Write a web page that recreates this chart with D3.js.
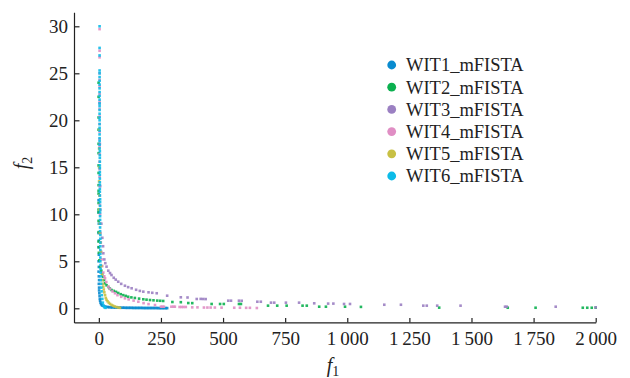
<!DOCTYPE html>
<html><head><meta charset="utf-8">
<script src="https://cdn.jsdelivr.net/npm/d3@7"></script>
<style>body{margin:0;background:#fff}svg{display:block}</style>
</head><body><svg id="c" width="630" height="378"></svg>
<script>
const seriesNames = ["WIT1_mFISTA","WIT2_mFISTA","WIT3_mFISTA","WIT4_mFISTA","WIT5_mFISTA","WIT6_mFISTA"];
const seriesColors = ["#0a8bcf","#0bb04f","#9b80c2","#e08ec4","#c8c044","#0cbbe8"];
const xTicks = [0,250,500,750,1000,1250,1500,1750,2000];
const xTickLabels = ["0","250","500","750","1\u2009000","1\u2009250","1\u2009500","1\u2009750","2\u2009000"];
const yTicks = [0,5,10,15,20,25,30];
const yTickLabels = ["0","5","10","15","20","25","30"];

// [f1, f2] pairs
const wit1 = [[-1,11.5],[-1,10.2],[0,9.0],[-1,8.0],[0,7.2],[-1,6.5],[0,5.7],[-1,5.0],[0,4.4],[-1,3.9],[0,3.4],[1,3.0],[0,2.6],[1,2.2],[1,1.9],[2,1.6],
[3,1.3],[4,1.0],[5,0.8],[7,0.6],[9,0.45],[12,0.35],[15,0.28],[20,0.22],[25,0.18],[30,0.15],[36,0.13],[42,0.12],[48,0.1],[54,0.1],[60,0.09],[66,0.08],[72,0.08],[78,0.07],[84,0.07],[90,0.06],[96,0.06],[102,0.06],[108,0.05],[114,0.05],[120,0.05],[126,0.05],[132,0.05],[138,0.04],[144,0.04],[150,0.04],[156,0.04],[162,0.04],[168,0.04],[174,0.04],[180,0.03],[186,0.03],[192,0.03],[198,0.03],[204,0.03],[210,0.03],[216,0.03],[222,0.03],[228,0.03],[234,0.03],[240,0.02],[246,0.02],[252,0.02],[258,0.02],[264,0.02],[270,0.02],[275,0.02]];
const wit2 = [[-1,24.0],[-1,22.5],[-1,20.3],[-1,19.0],[-1,17.5],[-1,16.5],[-1,15.2],[-1,14.4],[-1,13.1],[-1,12.5],[-1,12.2],[-1,11.2],[-1,10.5],[-1,10.2],[-1,9.3],[-1,8.1],[-1,7.1],[0,6.5],[0,5.9],[2,5.1],[5,4.4],[10,4.0],[14,3.7],
[18,3.36],[21,3.0],[25,2.66],[31,2.45],[38,2.27],[44,2.1],[51,1.95],[60,1.85],[69,1.75],[78,1.63],[88,1.5],[98,1.4],[108,1.32],[118,1.23],[131,1.16],[145,1.1],[162,1.03],[179,0.96],[192,0.92],[206,0.88],[220,0.85],[235,0.82],[247,0.8],[259,0.78],
[296,0.67],[330,0.65],[360,0.56],[376,0.55],[454,0.46],[488,0.46],[503,0.46],[564,0.46],[572,0.46],[681,0.28],[718,0.28],[756,0.28],[820,0.28],[837,0.28],[887,0.17],[914,0.17],[991,0.17],[1055,0.15],[1370,0.07],[1646,0.06],[1758,0.06],[1948,0.06],[1966,0.06],[1984,0.06],[2000,0.07]];
const wit3 = [[3,21.8],[4,17.5],[5,13.0],[6,10.5],[10,9.0],[14,7.5],[17,6.6],[18,5.85],[22,5.2],[26,4.8],[31,4.43],[38,4.0],[45,3.75],[51,3.54],[60,3.25],[68,3.05],[78,2.83],[90,2.6],[105,2.4],[118,2.25],[132,2.13],[150,1.97],[165,1.85],[179,1.77],[200,1.7],[215,1.65],[233,1.6],
[275,1.34],[330,1.17],[357,1.15],[394,0.99],[410,1.0],[420,0.99],[430,0.98],[521,0.81],[532,0.81],[564,0.81],[575,0.8],[638,0.7],[652,0.7],[693,0.6],[706,0.6],[753,0.6],[806,0.6],[867,0.53],[923,0.5],[944,0.5],[987,0.46],[1011,0.46],[1149,0.38],[1216,0.38],[1306,0.28],[1320,0.28],[1362,0.28],[1456,0.28],[1635,0.17],[1642,0.17],[1839,0.17],[2000,0.1]];
const wit4 = [[3,29.7],[3,27.4],[3,26.7],[3,25.0],[3,24.3],[3,23.6],[3,22.8],[3,22.0],[3,21.2],[3,20.4],[3,19.6],[3,18.8],[3,18.0],[3,17.2],[3,16.4],[3,15.6],[3,14.8],[3,14.0],[4,13.0],[4,12.0],[4,11.0],[5,10.0],[6,9.0],[7,8.0],[8,7.0],[10,6.0],[12,5.2],[14,4.5],[18,3.8],[22,3.4],[25,3.19],[30,2.8],[38,2.3],[45,2.05],[55,1.8],[65,1.6],[75,1.4],[90,1.22],[105,1.06],[120,0.95],[140,0.82],[159,0.7],[180,0.55],[200,0.45],[226,0.35],
[250,0.17],[256,0.17],[262,0.17],[292,0.17],[300,0.17],[306,0.17],[325,0.14],[333,0.14],[341,0.14],[350,0.14],[376,0.1],[397,0.1],[423,0.08],[437,0.08],[450,0.08],[467,0.08],[494,0.07],[545,0.06],[568,0.06],[593,0.05],[608,0.05],[636,0.03]];
const wit5 = [[1,19.0],[1,17.0],[1,15.0],[1,13.5],[2,12.0],[2,10.5],[3,9.0],[4,8.0],[6,7.0],[8,6.0],[10,4.5],[12,3.6],[14,3.0],[16,2.6],[18,2.3],[20,2.0],[22,1.7],[25,1.4],[28,1.1],[31,0.9],[35,0.75],[40,0.6],[45,0.47],[51,0.36],[57,0.28],[63,0.2],[70,0.14],[78,0.08],[85,0.05]];
const wit6 = [[3,30.0],[3,27.7],[3,26.9],[3,25.3],[3,25.0],[3,24.6],[3,24.2],[3,23.8],[3,23.4],[3,23.0],[3,22.6],[3,22.2],[3,21.8],[3,21.5],[3,21.1],[3,20.7],[3,20.3],[3,20.0],[3,19.6],[3,19.2],[3,18.9],[3,18.5],[3,18.1],[3,17.8],[3,17.4],[3,17.0],[4,16.7],[4,16.3],[4,16.0],[4,15.6],[4,15.2],[4,14.9],[4,14.5],[4,14.2],[4,13.8],[4,13.4],[4,13.1],[4,12.7],[4,12.4],[4,12.0],[5,11.6],[5,11.3],[5,10.9],[5,10.5],[5,10.2],[5,9.8],[5,9.4],[5,9.0],[5,8.6],[5,8.2],[6,7.8],[6,7.4],[6,7.0],[6,6.6],[6,6.2],[6,5.8],[6,5.4],[6,5.0],[7,4.6],[7,4.2],[7,3.8],[8,3.4],[8,3.0],[9,2.6],[10,2.2],[11,1.8],[12,1.4],[14,1.0],[16,0.6],[19,0.3],[23,0.1],[27,0.05]];
const seriesData = [wit1, wit2, wit3, wit4, wit5, wit6];

const svg = d3.select("#c");
const font = "'Liberation Serif','Times New Roman',serif";
const x = d3.scaleLinear().domain([-100, 2000]).range([74, 595.7]);
const y = d3.scaleLinear().domain([-1.5, 31.5]).range([322.4, 12.2]);

// points
seriesData.forEach((pts, i) => {
  svg.append("g").selectAll("rect").data(pts).join("rect")
    .attr("x", d => x(d[0]) - 1.3).attr("y", d => y(d[1]) - 1.3)
    .attr("width", 2.6).attr("height", 2.6)
    .attr("fill", seriesColors[i]).attr("opacity", 0.9);
});

// axes
const xAxis = d3.axisBottom(x).tickValues(xTicks).tickFormat((d, i) => xTickLabels[i])
  .tickSizeInner(-4.5).tickSizeOuter(0).tickPadding(9);
const yAxis = d3.axisLeft(y).tickValues(yTicks).tickFormat((d, i) => yTickLabels[i])
  .tickSizeInner(-5.5).tickSizeOuter(0).tickPadding(6);
const gx = svg.append("g").attr("transform", "translate(0,322.4)").call(xAxis);
const gy = svg.append("g").attr("transform", "translate(74,0)").call(yAxis);
[gx, gy].forEach(g => {
  g.selectAll("path").attr("stroke", "#222").attr("stroke-width", 1.2);
  g.selectAll("line").attr("stroke", "#222").attr("stroke-width", 1.2);
  g.selectAll("text").attr("font-family", font).attr("font-size", 19).attr("fill", "#222");
});

// axis titles
const fx = svg.append("text").attr("x", 333).attr("y", 372).attr("text-anchor", "middle")
  .attr("font-family", font).attr("font-size", 20).attr("fill", "#222");
fx.append("tspan").attr("font-style", "italic").text("f");
fx.append("tspan").attr("font-size", 14).attr("dy", 4).text("1");
const fy = svg.append("text").attr("transform", "translate(28,163) rotate(-90)").attr("text-anchor", "middle")
  .attr("font-family", font).attr("font-size", 20).attr("fill", "#222");
fy.append("tspan").attr("font-style", "italic").text("f");
fy.append("tspan").attr("font-size", 14).attr("dy", 4).text("2");

// legend
const lg = svg.append("g");
seriesNames.forEach((n, i) => {
  const cy = 65 + i * 22.2;
  lg.append("circle").attr("cx", 391.7).attr("cy", cy).attr("r", 4.4).attr("fill", seriesColors[i]);
  lg.append("text").attr("x", 406).attr("y", cy).attr("dy", "0.35em")
    .attr("font-family", font).attr("font-size", 18.5).attr("fill", "#222").text(n);
});
</script></body></html>
